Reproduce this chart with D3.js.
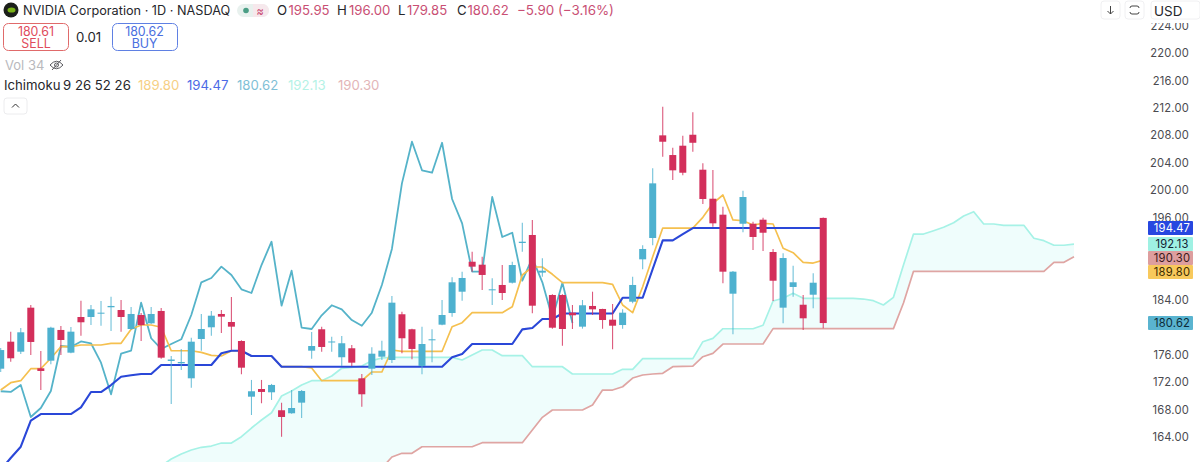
<!DOCTYPE html>
<html>
  <head>
    <title>NVIDIA Ichimoku</title>
    <script src="https://d3js.org/d3.v7.min.js"></script>
    <style>
      html, body { margin: 0; padding: 0; background: #fff; overflow: hidden; }
      text { font-family: Inter, "Noto Sans", sans-serif; }
    </style>
  </head>
  <body>
    <svg id="chart" width="1200" height="462"></svg>
    <script>
      // daily candles, left to right
      const opens = [173.96,177.90,176.44,182.86,174.02,175.13,179.61,176.30,181.50,181.50,
        182.03,182.92,182.52,179.75,181.79,180.58,182.38,175.09,174.75,172.56,
        178.29,180.00,181.94,180.77,178.00,169.88,171.00,170.52,167.90,167.46,
        169.01,176.59,179.71,177.81,175.63,176.94,172.56,173.96,175.71,175.23,
        181.90,179.71,174.36,178.10,180.38,182.08,185.19,189.56,189.13,185.39,
        186.17,186.50,192.29,193.46,187.97,184.71,184.71,182.13,180.09,183.11,
        182.67,181.11,180.33,183.73,189.91,193.02,207.99,205.12,206.48,208.08,
        202.98,198.75,196.42,184.90,195.10,195.10,195.69,190.98,182.86,185.88,
        183.29,184.75,195.95];
      const highs = [176.98,179.36,179.90,183.25,176.54,180.09,180.19,180.04,183.88,183.25,
        183.83,184.46,183.98,182.96,182.08,182.96,182.80,175.82,176.84,178.48,
        181.94,182.38,182.52,184.42,178.10,172.32,172.32,171.74,169.01,170.86,
        170.86,179.31,180.09,178.63,178.73,177.42,173.19,177.08,178.05,184.56,
        182.27,179.80,180.09,179.71,183.98,187.29,188.11,191.02,190.29,187.14,
        189.08,189.56,195.25,195.64,190.06,184.80,184.80,183.25,183.98,185.19,
        182.70,183.40,182.62,187.38,191.96,203.18,212.16,206.18,207.94,211.35,
        203.91,202.93,197.58,188.20,199.92,195.40,195.98,191.42,190.79,188.98,
        184.71,187.87,196.00];
      const lows = [173.48,174.98,176.11,175.96,170.86,174.61,175.96,176.20,178.78,180.33,
        180.23,179.46,179.36,179.61,178.00,180.48,175.40,168.82,173.78,171.19,
        176.59,178.78,179.17,176.69,173.15,167.21,168.92,169.40,164.05,167.40,
        166.78,175.42,176.44,176.44,174.36,174.36,168.42,173.04,175.23,174.79,
        176.21,175.33,173.15,174.90,180.30,181.55,183.88,188.11,185.44,183.25,
        183.98,186.40,191.02,182.04,187.38,179.78,177.32,179.75,179.80,181.79,
        179.80,176.79,179.80,183.50,188.46,191.96,204.87,201.48,202.16,205.60,
        197.98,194.67,186.41,178.98,193.85,191.27,191.12,183.83,180.58,184.46,
        179.61,182.77,179.85];
      const closes = [176.68,175.48,179.27,177.86,173.63,179.94,178.15,179.36,180.73,182.62,
        182.13,183.11,181.50,181.94,180.33,181.94,175.57,175.30,174.94,177.90,
        179.75,181.69,181.55,180.09,174.11,170.67,170.57,171.59,166.92,168.23,
        170.71,177.27,177.13,177.93,177.67,174.84,170.23,176.15,176.59,183.59,
        178.40,176.84,177.56,178.25,181.79,186.56,187.19,188.84,187.63,185.54,
        185.00,189.08,192.48,183.15,188.25,179.94,179.75,181.75,183.21,182.62,
        181.06,180.23,182.13,186.17,191.42,200.99,207.06,202.89,202.54,206.91,
        198.71,195.16,188.11,188.11,199.00,193.17,193.79,186.79,190.10,186.56,
        181.31,186.50,180.62];

      // ichimoku lines
      const tenkan = [170.85,171.92,172.21,173.96,173.96,175.48,177.17,177.17,177.42,177.42,
        177.42,177.66,177.66,179.70,180.33,180.33,180.00,176.58,176.58,176.58,
        176.35,175.91,175.81,176.58,176.58,175.81,175.81,175.81,174.25,174.25,
        174.25,174.06,172.21,172.21,172.21,172.21,172.21,173.48,173.48,176.69,
        176.50,176.50,176.50,176.50,176.50,180.08,180.67,182.13,182.13,182.13,
        182.13,183.00,187.62,188.79,188.79,187.73,186.50,186.50,186.50,186.50,
        186.50,186.27,183.25,182.13,185.92,190.29,194.47,194.47,194.47,194.47,
        196.04,198.08,199.29,195.65,195.54,194.92,195.16,195.06,191.52,190.88,
        189.48,189.37,189.80];
      const kijun = [159.20,160.94,162.58,166.38,167.35,167.35,167.35,167.35,168.33,170.56,
        170.56,171.58,172.79,173.00,173.19,173.19,174.50,174.50,174.50,174.50,
        174.50,174.50,176.21,176.58,176.58,175.81,175.81,175.81,174.25,174.25,
        174.25,174.25,174.25,174.25,174.25,174.25,174.25,174.25,174.25,174.25,
        174.25,174.25,174.25,174.25,174.25,175.62,176.10,177.56,177.56,177.56,
        177.56,177.56,179.70,179.89,181.21,181.21,182.01,182.01,182.01,182.01,
        182.01,182.01,184.31,184.31,184.31,188.50,192.68,192.68,193.60,194.47,
        194.47,194.47,194.47,194.47,194.47,194.47,194.47,194.47,194.47,194.47,
        194.47,194.47,194.47];
      // the lagging span sits 25 bars behind the close
      const chikou = closes.slice(25);

      // cloud starts off the bottom of the picture at bar 16
      const cloudStart = 16;
      const senkouA = [159.77,160.79,161.52,162.10,162.50,162.68,163.12,163.12,164.04,165.31,
        166.48,167.54,169.98,170.71,171.58,172.21,172.21,172.89,174.02,174.16,
        174.35,175.13,175.52,175.62,175.62,175.62,175.62,175.62,175.62,175.62,
        175.23,175.96,176.69,176.69,175.86,175.86,175.86,174.25,174.25,174.25,
        174.25,173.19,173.19,173.19,173.19,173.19,173.87,173.87,175.42,175.42,
        175.42,175.42,175.42,175.42,177.90,178.39,179.79,179.79,179.79,179.79,
        180.29,183.83,184.23,184.96,184.23,184.23,184.23,184.23,184.23,184.23,
        184.12,183.88,183.25,184.37,189.08,193.60,193.60,194.08,194.58,195.25,
        196.23,196.86,195.06,195.06,194.87,194.87,194.87,192.98,192.63,191.96,
        191.96,192.13];
      const senkouB = [157.50,157.50,157.50,157.50,157.50,157.50,157.50,157.50,157.50,157.50,
        157.50,157.50,157.50,157.50,157.50,157.50,157.50,157.50,157.50,157.50,
        157.50,158.50,159.48,161.08,161.62,161.62,162.58,162.58,162.58,162.58,
        162.58,162.58,163.17,163.17,163.17,163.17,163.17,165.02,166.87,167.94,
        167.94,167.94,167.94,168.66,170.85,170.85,171.33,172.60,173.04,173.19,
        173.29,174.25,174.31,174.35,175.71,176.20,177.56,177.56,177.56,177.56,
        177.56,179.80,179.80,179.80,179.80,179.80,179.80,179.80,179.80,179.80,
        179.80,179.80,179.80,179.80,183.54,188.16,188.16,188.16,188.16,188.16,
        188.16,188.16,188.16,188.16,188.16,188.16,188.16,188.16,188.16,189.48,
        189.48,190.30];

      // 192, 188 and 180 are hidden behind the badges in the picture
      const axisTicks = [224,220,216,212,208,204,200,196,184,176,172,168,164];
      const badgeValues = [194.47, 192.13, 190.30, 189.80, 180.62];
      const badgeFills = ["#2747e0", "#9ff1e3", "#dd9e9e", "#f8c95c", "#5ab4d0"];
      const badgeInks = ["#ffffff", "#123", "#3a1a1a", "#3a2a00", "#0c2a36"];

      const red = "#d32f5b";
      const teal = "#4eb1cf";

      const svg = d3.select("#chart");
      const x = d3.scaleLinear().domain([0, 107]).range([0.7, 1074]);
      const y = d3.scaleLinear().domain([164, 220]).range([437, 53]);

      // cloud
      const cloudIdx = d3.range(senkouA.length);
      svg.append("path")
        .attr("fill", "#effdfc")
        .attr("d", d3.area()
          .x((i) => x(i + cloudStart))
          .y0((i) => y(senkouB[i]))
          .y1((i) => y(senkouA[i]))(cloudIdx));

      function drawLine(values, start, color, width) {
        svg.append("path")
          .attr("fill", "none")
          .attr("stroke", color)
          .attr("stroke-width", width)
          .attr("stroke-linejoin", "round")
          .attr("d", d3.line()
            .x((d, i) => x(i + start))
            .y((d) => y(d))(values));
      }

      drawLine(senkouA, cloudStart, "#a6f2e6", 1.7);
      drawLine(senkouB, cloudStart, "#dfa5a3", 1.7);
      drawLine(chikou, 0, "#55b3c9", 1.8);
      drawLine(tenkan, 0, "#f5c04f", 1.7);
      drawLine(kijun, 0, "#2a47d8", 2.1);

      // candles go over the lines
      const bars = svg.append("g").selectAll("g")
        .data(opens)
        .enter()
        .append("g");
      bars.append("line")
        .attr("x1", (d, i) => x(i))
        .attr("x2", (d, i) => x(i))
        .attr("y1", (d, i) => y(highs[i]))
        .attr("y2", (d, i) => y(lows[i]))
        .attr("stroke", (d, i) => (closes[i] >= d ? teal : red))
        .attr("stroke-opacity", 0.8)
        .attr("stroke-width", 1.1);
      bars.append("rect")
        .attr("x", (d, i) => x(i) - 3.5)
        .attr("width", 7)
        .attr("y", (d, i) => y(Math.max(d, closes[i])))
        .attr("height", (d, i) => Math.max(1, Math.abs(y(d) - y(closes[i]))))
        .attr("fill", (d, i) => (closes[i] >= d ? teal : red));

      // price axis
      const axis = svg.append("g")
        .attr("transform", "translate(1189,0)")
        .call(d3.axisRight(y).tickValues(axisTicks).tickSize(0).tickPadding(0)
          .tickFormat(d3.format(".2f")));
      axis.select(".domain").remove();
      axis.selectAll("text")
        .attr("text-anchor", "end")
        .attr("font-size", 11.2)
        .attr("letter-spacing", 0.2)
        .attr("fill", "#4a4a4f")
        .style("font-family", "Inter, sans-serif");

      // value badges, pushed apart when they would overlap
      let lastMid = -100;
      badgeValues.forEach((v, i) => {
        const mid = Math.max(y(v), lastMid + 14);
        lastMid = mid;
        svg.append("rect")
          .attr("x", 1148).attr("y", mid - 7)
          .attr("width", 45).attr("height", 14)
          .attr("rx", 1)
          .attr("fill", badgeFills[i]);
        svg.append("text")
          .attr("x", 1172).attr("y", mid + 4.2)
          .attr("text-anchor", "middle")
          .attr("font-size", 11.2)
          .attr("letter-spacing", 0.2)
          .attr("fill", badgeInks[i])
          .text(v.toFixed(2));
      });

      // header strip over the price axis
      svg.append("rect").attr("x", 1085).attr("y", 0).attr("width", 115).attr("height", 23).attr("fill", "#fff");
      [1101, 1125].forEach((bx) => {
        svg.append("rect").attr("x", bx).attr("y", 1).attr("width", 19).attr("height", 18)
          .attr("rx", 3).attr("fill", "#fff").attr("stroke", "#f0f0f2");
      });
      svg.append("rect").attr("x", 1151).attr("y", 1).attr("width", 49).attr("height", 18)
        .attr("rx", 3).attr("fill", "#fff").attr("stroke", "#f0f0f2");
      svg.append("path").attr("d", "M1110.5 6V14M1107.5 11L1110.5 14L1113.5 11")
        .attr("fill", "none").attr("stroke", "#444").attr("stroke-width", 1);
      svg.append("path").attr("d", "M1130 8Q1130 6 1132 6H1137Q1139 6 1139 8M1130 12Q1130 14 1132 14H1137Q1139 14 1139 12")
        .attr("fill", "none").attr("stroke", "#444").attr("stroke-width", 1);

      function label(tx, ty, str, size, color, anchor) {
        return svg.append("text")
          .attr("x", tx).attr("y", ty)
          .attr("font-size", size)
          .attr("fill", color)
          .attr("text-anchor", anchor || "start")
          .text(str);
      }

      label(1154, 15.5, "USD", 13.5, "#26262b");

      // title row
      svg.append("circle").attr("cx", 11).attr("cy", 10).attr("r", 7.5).attr("fill", "#1c1f1a");
      svg.append("ellipse").attr("cx", 11.5).attr("cy", 10).attr("rx", 4).attr("ry", 2.6).attr("fill", "#7ab317");
      label(23, 15, "NVIDIA Corporation · 1D · NASDAQ", 12.7, "#26262b");
      svg.append("rect").attr("x", 237).attr("y", 4).attr("width", 32).attr("height", 13).attr("rx", 6.5).attr("fill", "#e8f1ee");
      svg.append("path").attr("d", "M253 4H262.5A6.5 6.5 0 0 1 262.5 17H253Z").attr("fill", "#f6e8ec");
      svg.append("circle").attr("cx", 246).attr("cy", 10.5).attr("r", 2.8).attr("fill", "#4a9e85");
      label(256.5, 14.5, "≈", 11, "#c7416a");

      const pink = "#c94f74";
      [["O", 277, "195.95", 288.5], ["H", 337, "196.00", 349], ["L", 398, "179.85", 407], ["C", 457, "180.62", 467.5]]
        .forEach((r) => {
          label(r[1], 15, r[0], 13.2, "#26262b");
          label(r[3], 15, r[2], 13.2, pink);
        });
      label(517, 15, "−5.90 (−3.16%)", 13.4, pink);

      // order buttons
      svg.append("rect").attr("x", 3.5).attr("y", 23.5).attr("width", 65).attr("height", 27).attr("rx", 5)
        .attr("fill", "#fff").attr("stroke", "#e06a6a");
      svg.append("rect").attr("x", 112.5).attr("y", 23.5).attr("width", 65).attr("height", 27).attr("rx", 5)
        .attr("fill", "#fff").attr("stroke", "#5f80e3");
      label(36, 36, "180.61", 12.4, "#df4c5c", "middle");
      label(36, 48, "SELL", 12.4, "#df4c5c", "middle");
      label(144.5, 36, "180.62", 12.4, "#4a6fe0", "middle");
      label(144.5, 48, "BUY", 12.4, "#4a6fe0", "middle");
      label(76, 42, "0.01", 13.2, "#26262b");

      // volume row
      label(5, 70, "Vol 34", 13, "#b9b9bd");
      svg.append("path").attr("d", "M50 65Q56.5 57.5 63 65Q56.5 72.5 50 65ZM52 70L61 60")
        .attr("fill", "none").attr("stroke", "#5a5a5f").attr("stroke-width", 1);
      svg.append("circle").attr("cx", 56.5).attr("cy", 65).attr("r", 2).attr("fill", "none").attr("stroke", "#5a5a5f");

      // indicator row
      label(4, 90, "Ichimoku", 13.2, "#26262b");
      label(63, 90, "9 26 52 26", 13.2, "#26262b");
      [["189.80", 138, "#f6cf85"], ["194.47", 187, "#4d6ae6"], ["180.62", 237, "#7fc0d6"], ["192.13", 288, "#b5f2e6"], ["190.30", 338, "#e3b5b8"]]
        .forEach((r) => label(r[1], 90, r[0], 13.2, r[2]));

      // collapse button
      svg.append("rect").attr("x", 4).attr("y", 98).attr("width", 23).attr("height", 16).attr("rx", 3)
        .attr("fill", "#fff").attr("stroke", "#ececee");
      svg.append("path").attr("d", "M12 107.5L15.5 104L19 107.5")
        .attr("fill", "none").attr("stroke", "#333").attr("stroke-width", 1);
    </script>
  </body>
</html>
